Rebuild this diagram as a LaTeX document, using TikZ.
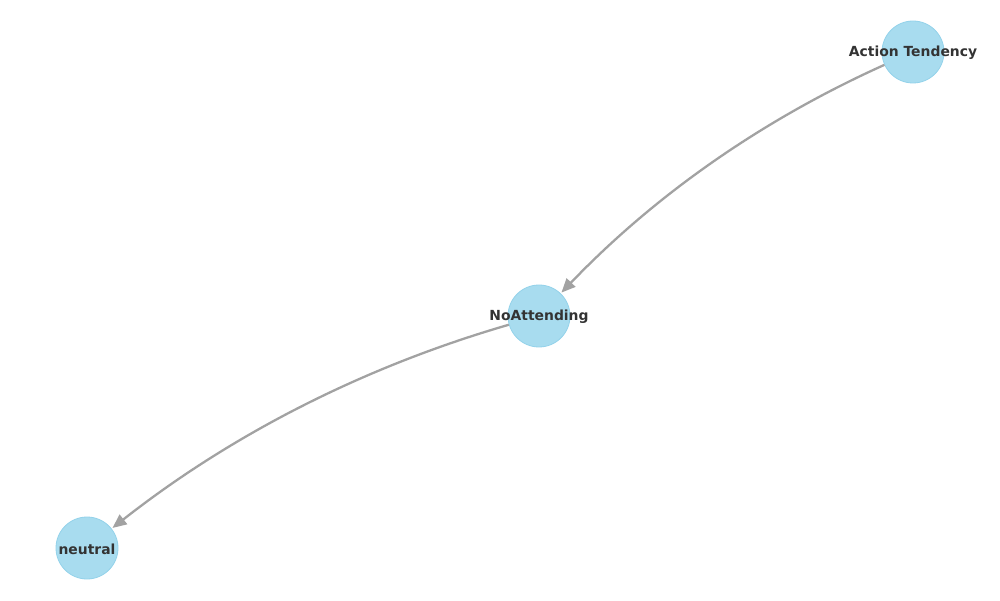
\documentclass[tikz,border=0pt]{standalone}
\usepackage{fontspec}
\setmainfont{DejaVu Sans}
\usetikzlibrary{arrows.meta}
\definecolor{nodefill}{HTML}{A8DCEF}
\definecolor{nodeedge}{HTML}{93D2EA}
\definecolor{edgecol}{HTML}{A2A2A2}
\definecolor{txt}{HTML}{333333}
\begin{document}
\begin{tikzpicture}[x=1pt,y=1pt,
  vertex/.style={circle,fill=nodefill,draw=nodeedge,line width=0.8pt,minimum size=62pt,inner sep=0pt},
  lbl/.style={font=\fontsize{13.9}{16}\selectfont\bfseries,text=txt},
  conn/.style={draw=edgecol,line width=2.3pt,-{Triangle[length=14pt,width=12pt]},shorten >=1pt,bend right=11,looseness=0.87}]
\useasboundingbox (0,0) rectangle (1000,600);
\node[vertex] (at) at (913,548) {};
\node[vertex] (na) at (539,284) {};
\node[vertex] (ne) at (87,52) {};
\draw[conn] (at) to (na);
\draw[conn] (na) to (ne);
\node[lbl] (atl) at (913,547) {Action Tendency};
\node[lbl] (nal) at (539,283) {NoAttending};
\node[lbl] (nel) at (87,51) {neutral};
\end{tikzpicture}
\end{document}
